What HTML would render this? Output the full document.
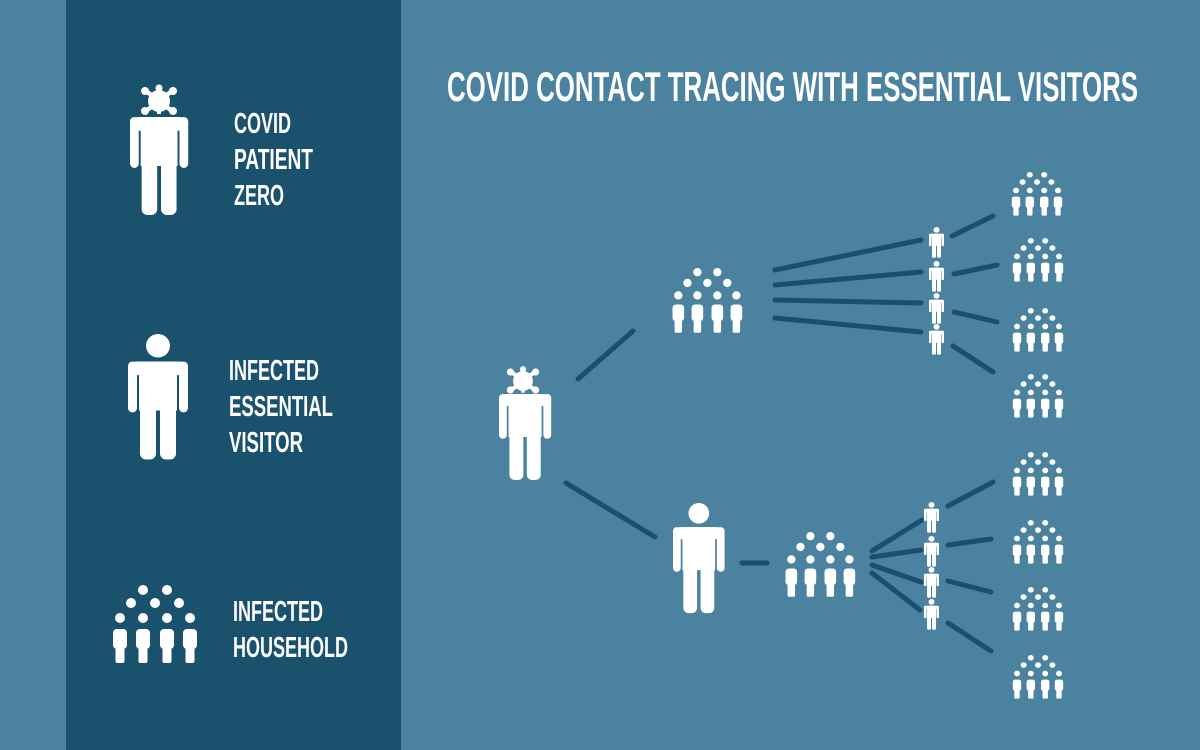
<!DOCTYPE html>
<html><head><meta charset="utf-8"><style>
html,body{margin:0;padding:0;background:#4a82a0;}
svg{display:block}
text{font-family:"Liberation Sans",sans-serif;fill:#fff;font-weight:bold;}
</style></head><body>
<svg width="1200" height="750" viewBox="0 0 1200 750" xmlns="http://www.w3.org/2000/svg">
<defs>
<g id="body">
  <rect x="0" y="0" width="9" height="52" rx="4.5" fill="#fff"/>
  <rect x="51" y="0" width="9" height="52" rx="4.5" fill="#fff"/>
  <path d="M11 0 H49 V50 H11 Z" fill="#fff"/>
  <rect x="0" y="0" width="60" height="14" rx="9" fill="#fff"/>
  <rect x="12" y="40" width="16" height="60" rx="6" fill="#fff"/>
  <rect x="32" y="40" width="16" height="60" rx="6" fill="#fff"/>
</g>
<g id="virus" fill="#fff" stroke="#fff">
  <circle cx="0" cy="0" r="11" stroke="none"/>
  <line x1="-13" y1="-10" x2="13" y2="10" stroke-width="4.5"/>
  <line x1="-13" y1="10" x2="13" y2="-10" stroke-width="4.5"/>
  <line x1="0" y1="-13" x2="0" y2="13" stroke-width="4"/>
  <circle cx="-14" cy="-10" r="4" stroke="none"/>
  <circle cx="14" cy="-10" r="4" stroke="none"/>
  <circle cx="-14" cy="10" r="4" stroke="none"/>
  <circle cx="14" cy="10" r="4" stroke="none"/>
  <circle cx="0" cy="-13" r="3.5" stroke="none"/>
</g>
<g id="visitor">
  <circle cx="30" cy="12" r="12" fill="#fff"/>
  <use href="#body" transform="translate(0,28)"/>
</g>
<g id="mini" fill="#fff">
  <rect x="-7" y="0" width="14" height="20" rx="4"/>
  <rect x="-4.5" y="14" width="9" height="20" rx="2"/>
</g>
<g id="house" fill="#fff">
  <circle cx="33" cy="5" r="5"/><circle cx="57" cy="5" r="5"/>
  <circle cx="21" cy="18" r="5"/><circle cx="45" cy="18" r="5"/><circle cx="69" cy="18" r="5"/>
  <circle cx="10" cy="33" r="5"/><circle cx="33" cy="33" r="5"/><circle cx="57" cy="33" r="5"/><circle cx="80" cy="33" r="5"/>
  <use href="#mini" x="10" y="44"/><use href="#mini" x="33" y="44"/><use href="#mini" x="57" y="44"/><use href="#mini" x="80" y="44"/>
</g>
</defs>

<rect x="66" y="0" width="335" height="750" fill="#1a526e"/>

<use href="#virus" transform="translate(159,101)"/>
<use href="#body" transform="translate(130,117) scale(0.97,0.98)"/>
<text x="234" y="133" font-size="29" textLength="57" lengthAdjust="spacingAndGlyphs">COVID</text>
<text x="234" y="169" font-size="29" textLength="79" lengthAdjust="spacingAndGlyphs">PATIENT</text>
<text x="234" y="205" font-size="29" textLength="50" lengthAdjust="spacingAndGlyphs">ZERO</text>

<use href="#visitor" transform="translate(128,334) scale(1,0.98)"/>
<text x="229" y="380" font-size="29" textLength="90" lengthAdjust="spacingAndGlyphs">INFECTED</text>
<text x="229" y="416" font-size="29" textLength="104" lengthAdjust="spacingAndGlyphs">ESSENTIAL</text>
<text x="229" y="452" font-size="29" textLength="74" lengthAdjust="spacingAndGlyphs">VISITOR</text>

<use href="#house" transform="translate(110,585)"/>
<text x="233" y="621" font-size="29" textLength="90" lengthAdjust="spacingAndGlyphs">INFECTED</text>
<text x="233" y="657" font-size="29" textLength="115" lengthAdjust="spacingAndGlyphs">HOUSEHOLD</text>

<text x="447" y="101" font-size="42" textLength="691" lengthAdjust="spacingAndGlyphs">COVID CONTACT TRACING WITH ESSENTIAL VISITORS</text>

<g stroke="#1b4f6b" stroke-width="5" stroke-linecap="round">
  <line x1="578" y1="379" x2="633" y2="331"/>
  <line x1="566" y1="483" x2="655" y2="537"/>
  <line x1="742" y1="563" x2="767" y2="563"/>
  <line x1="775" y1="270" x2="921" y2="240"/>
  <line x1="775" y1="285" x2="921" y2="272"/>
  <line x1="775" y1="300" x2="921" y2="303"/>
  <line x1="775" y1="318" x2="921" y2="332"/>
  <line x1="952" y1="236" x2="993" y2="216"/>
  <line x1="954" y1="274" x2="997" y2="265"/>
  <line x1="954" y1="312" x2="997" y2="322"/>
  <line x1="953" y1="346" x2="993" y2="372"/>
  <line x1="872" y1="551" x2="922" y2="520"/>
  <line x1="872" y1="557" x2="921" y2="550"/>
  <line x1="872" y1="565" x2="921" y2="582"/>
  <line x1="872" y1="573" x2="920" y2="610"/>
  <line x1="948" y1="506" x2="993" y2="482"/>
  <line x1="948" y1="545" x2="991" y2="539"/>
  <line x1="948" y1="581" x2="991" y2="592"/>
  <line x1="948" y1="623" x2="991" y2="651"/>
</g>

<use href="#virus" transform="translate(523,381) scale(0.9)"/>
<use href="#body" transform="translate(499,394) scale(0.87,0.86)"/>
<use href="#visitor" transform="translate(673,503) scale(0.86,0.86)"/>
<use href="#house" transform="translate(670,268) scale(0.83,0.83)"/>
<use href="#house" transform="translate(783,532) scale(0.83,0.83)"/>

<g>
  <use href="#visitor" transform="translate(929,227) scale(0.25,0.24)"/>
  <use href="#visitor" transform="translate(929,261) scale(0.25,0.24)"/>
  <use href="#visitor" transform="translate(929,293) scale(0.25,0.24)"/>
  <use href="#visitor" transform="translate(929,324) scale(0.25,0.24)"/>
  <use href="#visitor" transform="translate(924,502) scale(0.25,0.24)"/>
  <use href="#visitor" transform="translate(924,536) scale(0.25,0.24)"/>
  <use href="#visitor" transform="translate(924,567) scale(0.25,0.24)"/>
  <use href="#visitor" transform="translate(924,599) scale(0.25,0.24)"/>
</g>

<g>
  <use href="#house" transform="translate(1010,172) scale(0.6,0.56)"/>
  <use href="#house" transform="translate(1011,238) scale(0.6,0.56)"/>
  <use href="#house" transform="translate(1011,308) scale(0.6,0.56)"/>
  <use href="#house" transform="translate(1011,374) scale(0.6,0.56)"/>
  <use href="#house" transform="translate(1011,452) scale(0.6,0.56)"/>
  <use href="#house" transform="translate(1011,520) scale(0.6,0.56)"/>
  <use href="#house" transform="translate(1011,587) scale(0.6,0.56)"/>
  <use href="#house" transform="translate(1011,655) scale(0.6,0.56)"/>
</g>
</svg>
</body></html>
